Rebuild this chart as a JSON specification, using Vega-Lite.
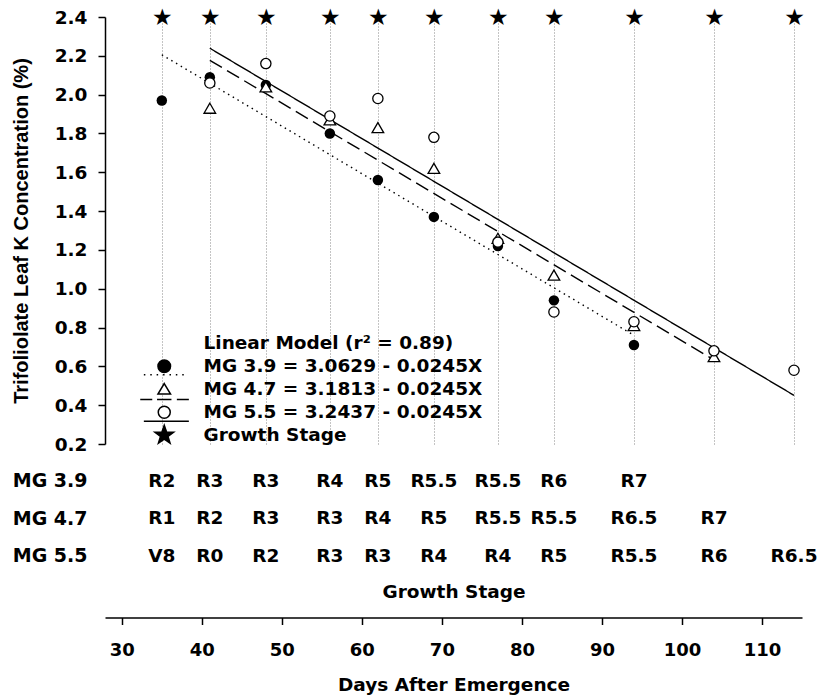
{
  "$schema": "https://vega.github.io/schema/vega-lite/v6.json",
  "padding": {"left": 11, "top": 6, "right": 5, "bottom": 5},
  "bounds": "flush",
  "spacing": 18,
  "config": {
    "view": {"stroke": null},
    "font": "DejaVu Sans",
    "axis": {"labelFont": "DejaVu Sans", "labelFontWeight": "bold", "labelColor": "black", "titleColor": "black", "titleFont": "DejaVu Sans", "titleFontWeight": "bold", "domainColor": "black", "tickColor": "black", "grid": false, "labelOverlap": false}
  },
  "datasets": {
    "k": [
      {"mg": "MG 3.9", "day": 35, "k": 1.97},
      {"mg": "MG 3.9", "day": 41, "k": 2.09},
      {"mg": "MG 3.9", "day": 48, "k": 2.05},
      {"mg": "MG 3.9", "day": 56, "k": 1.80},
      {"mg": "MG 3.9", "day": 62, "k": 1.56},
      {"mg": "MG 3.9", "day": 69, "k": 1.37},
      {"mg": "MG 3.9", "day": 77, "k": 1.22},
      {"mg": "MG 3.9", "day": 84, "k": 0.94},
      {"mg": "MG 3.9", "day": 94, "k": 0.71},
      {"mg": "MG 4.7", "day": 41, "k": 1.93},
      {"mg": "MG 4.7", "day": 48, "k": 2.04},
      {"mg": "MG 4.7", "day": 56, "k": 1.87},
      {"mg": "MG 4.7", "day": 62, "k": 1.83},
      {"mg": "MG 4.7", "day": 69, "k": 1.62},
      {"mg": "MG 4.7", "day": 77, "k": 1.26},
      {"mg": "MG 4.7", "day": 84, "k": 1.07},
      {"mg": "MG 4.7", "day": 94, "k": 0.81},
      {"mg": "MG 4.7", "day": 104, "k": 0.65},
      {"mg": "MG 5.5", "day": 41, "k": 2.06},
      {"mg": "MG 5.5", "day": 48, "k": 2.16},
      {"mg": "MG 5.5", "day": 56, "k": 1.89},
      {"mg": "MG 5.5", "day": 62, "k": 1.98},
      {"mg": "MG 5.5", "day": 69, "k": 1.78},
      {"mg": "MG 5.5", "day": 77, "k": 1.24},
      {"mg": "MG 5.5", "day": 84, "k": 0.88},
      {"mg": "MG 5.5", "day": 94, "k": 0.83},
      {"mg": "MG 5.5", "day": 104, "k": 0.68},
      {"mg": "MG 5.5", "day": 114, "k": 0.58}
    ],
    "fit": [
      {"mg": "MG 3.9", "model": "MG 3.9 = 3.0629 - 0.0245X", "day": 35, "k": 2.2054},
      {"mg": "MG 3.9", "model": "MG 3.9 = 3.0629 - 0.0245X", "day": 94, "k": 0.7599},
      {"mg": "MG 4.7", "model": "MG 4.7 = 3.1813 - 0.0245X", "day": 41, "k": 2.1768},
      {"mg": "MG 4.7", "model": "MG 4.7 = 3.1813 - 0.0245X", "day": 104, "k": 0.6333},
      {"mg": "MG 5.5", "model": "MG 5.5 = 3.2437 - 0.0245X", "day": 41, "k": 2.2392},
      {"mg": "MG 5.5", "model": "MG 5.5 = 3.2437 - 0.0245X", "day": 114, "k": 0.4507}
    ],
    "table": [
      {"mg": "MG 3.9", "day": 35, "stage": "R2"},
      {"mg": "MG 3.9", "day": 41, "stage": "R3"},
      {"mg": "MG 3.9", "day": 48, "stage": "R3"},
      {"mg": "MG 3.9", "day": 56, "stage": "R4"},
      {"mg": "MG 3.9", "day": 62, "stage": "R5"},
      {"mg": "MG 3.9", "day": 69, "stage": "R5.5"},
      {"mg": "MG 3.9", "day": 77, "stage": "R5.5"},
      {"mg": "MG 3.9", "day": 84, "stage": "R6"},
      {"mg": "MG 3.9", "day": 94, "stage": "R7"},
      {"mg": "MG 4.7", "day": 35, "stage": "R1"},
      {"mg": "MG 4.7", "day": 41, "stage": "R2"},
      {"mg": "MG 4.7", "day": 48, "stage": "R3"},
      {"mg": "MG 4.7", "day": 56, "stage": "R3"},
      {"mg": "MG 4.7", "day": 62, "stage": "R4"},
      {"mg": "MG 4.7", "day": 69, "stage": "R5"},
      {"mg": "MG 4.7", "day": 77, "stage": "R5.5"},
      {"mg": "MG 4.7", "day": 84, "stage": "R5.5"},
      {"mg": "MG 4.7", "day": 94, "stage": "R6.5"},
      {"mg": "MG 4.7", "day": 104, "stage": "R7"},
      {"mg": "MG 5.5", "day": 35, "stage": "V8"},
      {"mg": "MG 5.5", "day": 41, "stage": "R0"},
      {"mg": "MG 5.5", "day": 48, "stage": "R2"},
      {"mg": "MG 5.5", "day": 56, "stage": "R3"},
      {"mg": "MG 5.5", "day": 62, "stage": "R3"},
      {"mg": "MG 5.5", "day": 69, "stage": "R4"},
      {"mg": "MG 5.5", "day": 77, "stage": "R4"},
      {"mg": "MG 5.5", "day": 84, "stage": "R5"},
      {"mg": "MG 5.5", "day": 94, "stage": "R5.5"},
      {"mg": "MG 5.5", "day": 104, "stage": "R6"},
      {"mg": "MG 5.5", "day": 114, "stage": "R6.5"}
    ]
  },
  "vconcat": [
    {
      "width": 697,
      "height": 427,
      "encoding": {
        "x": {"field": "day", "type": "quantitative",
          "scale": {"domain": [27.9, 115], "nice": false, "zero": false},
          "axis": {"orient": "top", "values": [35, 41, 48, 56, 62, 69, 77, 84, 94, 104, 114], "labelExpr": "'★'",
            "labelFont": "DejaVu Sans", "labelFontWeight": "normal", "labelFontSize": 23, "labelBaseline": "middle", "labelPadding": 0,
            "labelOverlap": false, "labelFlush": false, "ticks": false, "tickSize": 0, "domain": false,
            "grid": true, "gridDash": [1, 2], "gridColor": "#888888", "gridWidth": 1,
            "title": "Growth Stage", "titleFontSize": 18.5, "titleY": 574, "titleBaseline": "middle"}},
        "y": {"field": "k", "type": "quantitative",
          "scale": {"domain": [0.2, 2.4], "nice": false, "zero": false},
          "axis": {"title": "Trifoliolate Leaf K Concentration (%)", "titleFont": "Liberation Sans", "titleFontSize": 20, "titlePadding": 23,
            "values": [0.2, 0.4, 0.6, 0.8, 1.0, 1.2, 1.4, 1.6, 1.8, 2.0, 2.2, 2.4], "format": ".1f", "labelOverlap": false,
            "labelFontSize": 18.5, "tickSize": 7, "labelPadding": 11, "domainWidth": 1.5, "tickWidth": 1.5}}
      },
      "layer": [
        {
          "data": {"name": "fit"},
          "mark": {"type": "line", "color": "black", "strokeWidth": 1.4},
          "encoding": {
            "strokeDash": {"field": "mg", "type": "nominal",
              "scale": {"domain": ["MG 3.9", "MG 4.7", "MG 5.5"], "range": [[1.5, 4], [14, 6], [1, 0]]}, "legend": null}
          }
        },
        {
          "data": {"name": "k"},
          "transform": [{"filter": "datum.mg == 'MG 3.9'"}],
          "mark": {"type": "point", "shape": "circle", "size": 110, "filled": true, "color": "black", "opacity": 1}
        },
        {
          "data": {"name": "k"},
          "transform": [{"filter": "datum.mg == 'MG 4.7'"}],
          "mark": {"type": "point", "shape": "triangle-up", "size": 135, "filled": true, "fill": "white", "stroke": "black", "strokeWidth": 1.3, "opacity": 1}
        },
        {
          "data": {"name": "k"},
          "transform": [{"filter": "datum.mg == 'MG 5.5'"}],
          "mark": {"type": "point", "shape": "circle", "size": 105, "filled": true, "fill": "white", "stroke": "black", "strokeWidth": 1.3, "opacity": 1}
        },
        {
          "data": {"name": "fit"},
          "transform": [{"filter": "false"}],
          "mark": {"type": "point", "filled": true, "strokeWidth": 1.5, "opacity": 1},
          "encoding": {
            "shape": {"field": "model", "type": "nominal",
              "scale": {
                "domain": ["Linear Model (r² = 0.89)", "MG 3.9 = 3.0629 - 0.0245X", "MG 4.7 = 3.1813 - 0.0245X", "MG 5.5 = 3.2437 - 0.0245X", "Growth Stage"],
                "range": [
                  "M0 0",
                  "M0 -1.05 C0.58 -1.05 1.05 -0.58 1.05 0 C1.05 0.58 0.58 1.05 0 1.05 C-0.58 1.05 -1.05 0.58 -1.05 0 C-1.05 -0.58 -0.58 -1.05 0 -1.05 Z M-3.4 1.4 H-3.15 M-2.33 1.4 H-2.08 M-1.27 1.4 H-1.02 M-0.2 1.4 H0.05 M0.87 1.4 H1.12 M1.93 1.4 H2.18 M3 1.4 H3.25",
                  "M0 -0.95 L1.05 0.8 L-1.05 0.8 Z M-4 1.7 H-2 M-1.2 1.7 H1.2 M2.1 1.7 H4.1",
                  "M0 -1 C0.55 -1 1 -0.55 1 0 C1 0.55 0.55 1 0 1 C-0.55 1 -1 0.55 -1 0 C-1 -0.55 -0.55 -1 0 -1 Z M-3.4 1.5 H4.1",
                  "M0 -1.65 L0.388 -0.534 L1.569 -0.51 L0.628 0.204 L0.97 1.335 L0 0.66 L-0.97 1.335 L-0.628 0.204 L-1.569 -0.51 L-0.388 -0.534 Z"
                ]},
              "legend": {"title": null, "orient": "none", "legendX": 50, "legendY": 317, "padding": 0,
                "symbolSize": 144, "symbolStrokeWidth": 1.5, "gridAlign": "all",
                "labelFont": "DejaVu Sans", "labelFontWeight": "bold", "labelFontSize": 18.5, "labelColor": "black",
                "labelLimit": 400, "labelOffset": 30, "rowPadding": -7.5}},
            "fill": {"field": "model", "type": "nominal",
              "scale": {
                "domain": ["Linear Model (r² = 0.89)", "MG 3.9 = 3.0629 - 0.0245X", "MG 4.7 = 3.1813 - 0.0245X", "MG 5.5 = 3.2437 - 0.0245X", "Growth Stage"],
                "range": ["transparent", "black", "white", "white", "black"]}},
            "stroke": {"field": "model", "type": "nominal",
              "scale": {
                "domain": ["Linear Model (r² = 0.89)", "MG 3.9 = 3.0629 - 0.0245X", "MG 4.7 = 3.1813 - 0.0245X", "MG 5.5 = 3.2437 - 0.0245X", "Growth Stage"],
                "range": ["black", "black", "black", "black", "black"]}}
          }
        }
      ]
    },
    {
      "width": 697,
      "height": 112.5,
      "data": {"name": "table"},
      "mark": {"type": "text", "font": "DejaVu Sans", "fontWeight": "bold", "fontSize": 18.5, "color": "black", "align": "center", "baseline": "middle"},
      "encoding": {
        "x": {"field": "day", "type": "quantitative",
          "scale": {"domain": [27.9, 115], "nice": false, "zero": false},
          "axis": {"title": "Days After Emergence", "titleFontSize": 18.5, "values": [30, 40, 50, 60, 70, 80, 90, 100, 110],
            "labelFontSize": 18, "offset": 43, "tickSize": 7, "labelPadding": 17, "titlePadding": 16, "domainWidth": 1.5, "tickWidth": 1.5}},
        "y": {"field": "mg", "type": "nominal",
          "scale": {"domain": ["MG 3.9", "MG 4.7", "MG 5.5"]},
          "axis": {"title": null, "domain": false, "ticks": false, "tickSize": 0, "labelPadding": 18, "labelFontSize": 19}},
        "text": {"field": "stage"}
      }
    }
  ]
}
